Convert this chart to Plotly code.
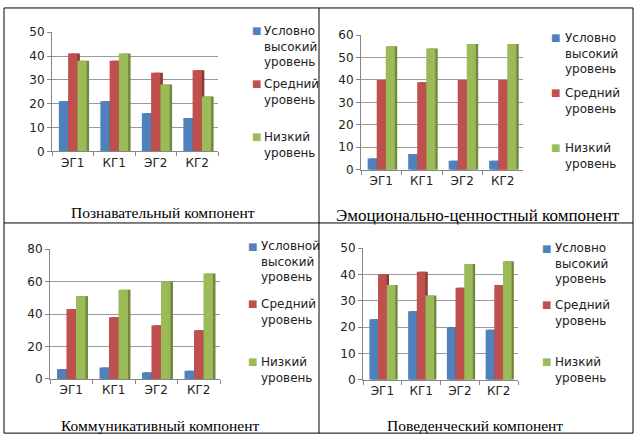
import plotly.graph_objects as go

W, H = 636, 444

groups = ["ЭГ1", "КГ1", "ЭГ2", "КГ2"]
levels = ["Условно<br>высокий<br>уровень", "Средний<br>уровень", "Низкий<br>уровень"]
levels_comm = ["Условной<br>высокий<br>уровень", "Средний<br>уровень", "Низкий<br>уровень"]
colors = ["#4F81BD", "#C0504D", "#9BBB59"]
side_colors = ["#385D8A", "#8C3836", "#71893F"]

# values, one list per level
cogn_high = [21, 21, 16, 14]
cogn_mid = [41, 38, 33, 34]
cogn_low = [38, 41, 28, 23]

emo_high = [5, 7, 4, 4]
emo_mid = [40, 39, 40, 40]
emo_low = [55, 54, 56, 56]

comm_high = [6, 7, 4, 5]
comm_mid = [43, 38, 33, 30]
comm_low = [51, 55, 60, 65]

beh_high = [23, 26, 20, 19]
beh_mid = [40, 41, 35, 36]
beh_low = [36, 32, 44, 45]

captions = ["Познавательный компонент", "Эмоционально-ценностный компонент",
            "Коммуникативный компонент", "Поведенческий компонент"]
y_max = [50, 60, 80, 50]
y_dtick = [10, 10, 20, 10]

# panel boxes in pixels: x0, x1, y_top, y_bottom
boxes = [(52, 218, 26, 149), (361, 523, 29, 168),
         (50, 220, 250, 384), (363, 518, 249, 385)]
# legend: marker x, text x, first-line y of each entry
legend_pos = [(256, 262, [24, 79, 134]), (555, 563, [32, 88, 145]),
              (252, 259, [247, 306, 366]), (546, 553, [249, 307, 366])]
caption_pos = [(163, 212, 15.5), (478, 215, 17), (160, 432, 15.5), (475, 432, 15.5)]

panels = [
    (cogn_high, cogn_mid, cogn_low),
    (emo_high, emo_mid, emo_low),
    (comm_high, comm_mid, comm_low),
    (beh_high, beh_mid, beh_low),
]

bar_w = 0.223
depth = 0.06  # fake 3d side face, in category units

fig = go.Figure()

for i, series in enumerate(panels):
    ax = "" if i == 0 else str(i + 1)
    names = levels_comm if i == 2 else levels
    for j, vals in enumerate(series):
        off = -0.335 + j * bar_w
        # darker side face first, then the front face on top of it
        fig.add_trace(go.Bar(
            x=groups, y=vals, offset=off + depth, width=bar_w,
            marker=dict(color=side_colors[j], line=dict(width=0)),
            xaxis="x" + ax, yaxis="y" + ax, showlegend=False, hoverinfo="skip",
        ))
        fig.add_trace(go.Bar(
            x=groups, y=vals, offset=off, width=bar_w,
            name=names[j].replace("<br>", " "),
            marker=dict(color=colors[j], line=dict(width=0)),
            xaxis="x" + ax, yaxis="y" + ax, showlegend=False,
        ))

    x0, x1, yt, yb = boxes[i]
    fig.layout["xaxis" + ax] = dict(
        domain=[x0 / W, x1 / W], anchor="y" + ax,
        showline=True, linecolor="#868686", linewidth=1,
        ticks="outside", tickson="boundaries", ticklen=4, tickcolor="#868686",
        tickfont=dict(family="DejaVu Sans", size=12, color="#222"),
        showgrid=False,
    )
    fig.layout["yaxis" + ax] = dict(
        domain=[1 - yb / H, 1 - yt / H], anchor="x" + ax,
        range=[0, y_max[i]], dtick=y_dtick[i],
        showline=True, linecolor="#868686", linewidth=1,
        ticks="outside", ticklen=4, tickcolor="#868686",
        tickfont=dict(family="DejaVu Sans", size=12, color="#222"),
        showgrid=True, gridcolor="#9a9a9a", gridwidth=1,
        zeroline=False,
    )

    # legend drawn as annotations (square + wrapped text, like the original)
    mx, tx, ys = legend_pos[i]
    for j in range(3):
        fig.add_annotation(
            x=mx / W, y=1 - ys[j] / H, xref="paper", yref="paper",
            xanchor="center", yanchor="middle", showarrow=False,
            text="■", font=dict(family="DejaVu Sans", size=10, color=colors[j]),
        )
        fig.add_annotation(
            x=tx / W, y=1 - (ys[j] - 9) / H, xref="paper", yref="paper",
            xanchor="left", yanchor="top", align="left", showarrow=False,
            text=names[j], font=dict(family="DejaVu Sans", size=12, color="#222"),
        )

    cx, cy, cs = caption_pos[i]
    fig.add_annotation(
        x=cx / W, y=1 - cy / H, xref="paper", yref="paper",
        xanchor="center", yanchor="middle",
        text=captions[i], showarrow=False,
        font=dict(family="Liberation Serif", size=cs, color="#000"),
    )

fig.update_layout(
    width=W, height=H,
    margin=dict(l=0, r=0, t=0, b=0),
    paper_bgcolor="white", plot_bgcolor="white",
    barmode="overlay",
    shapes=[
        dict(type="rect", xref="paper", yref="paper", x0=4 / W, x1=633 / W,
             y0=1 - 440 / H, y1=1 - 1 / H, line=dict(color="#000", width=1)),
        dict(type="line", xref="paper", yref="paper", x0=319 / W, x1=319 / W,
             y0=1 - 440 / H, y1=1 - 1 / H, line=dict(color="#000", width=1)),
        dict(type="line", xref="paper", yref="paper", x0=4 / W, x1=633 / W,
             y0=1 - 223 / H, y1=1 - 223 / H, line=dict(color="#000", width=1)),
    ],
)

# page body has a default 8px margin; drop it so the figure fills the window
fig.write_html("out.html", config={"displayModeBar": False},
               post_script="document.body.style.margin='0';")
